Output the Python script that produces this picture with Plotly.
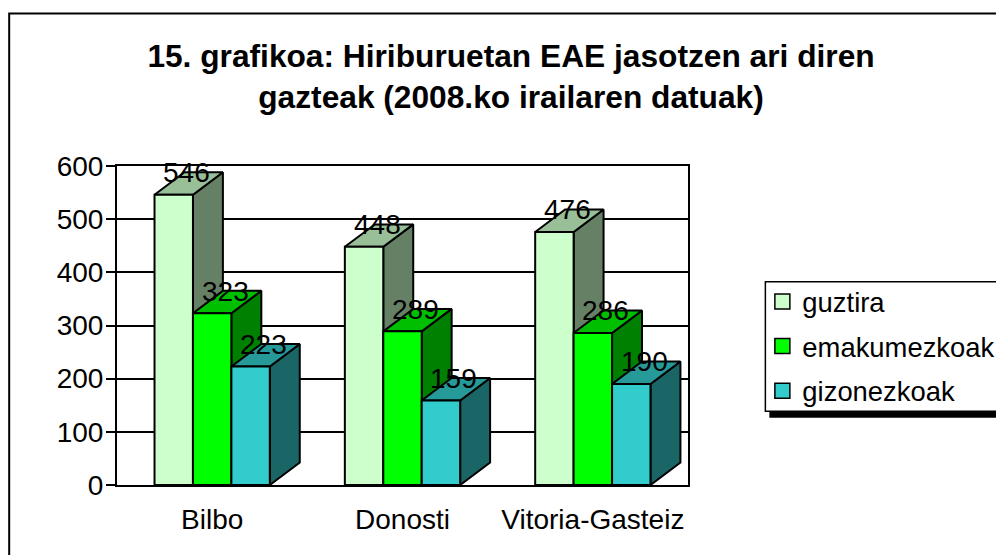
import plotly.graph_objects as go

categories = ["Bilbo", "Donosti", "Vitoria-Gasteiz"]
series_names = ["guztira", "emakumezkoak", "gizonezkoak"]
guztira = [546, 448, 476]
emakumezkoak = [323, 289, 286]
gizonezkoak = [223, 159, 190]
y_ticks = [0, 100, 200, 300, 400, 500, 600]

front_colors = ["#CCFFCC", "#00FF00", "#33CCCC"]
top_colors = ["#99BF99", "#00BF00", "#269999"]
side_colors = ["#668066", "#008000", "#1A6666"]

W, H = 996, 555
L, R, T, B = 116.5, 688.5, 165.5, 485.5
cat_px = (R - L) / 3
unit_px = (B - T) / 600
bar_w = 38.5 / cat_px
dx = 30 / cat_px
dy = 22.5 / unit_px
LINE = dict(color="black", width=2)

fig = go.Figure()


def face(xs, ys, color):
    fig.add_trace(go.Scatter(
        x=xs + xs[:1], y=ys + ys[:1], mode="lines", fill="toself", fillcolor=color,
        line=LINE, hoverinfo="skip", showlegend=False))


all_series = [guztira, emakumezkoak, gizonezkoak]
for c in range(len(categories)):
    for s, values in enumerate(all_series):
        v = values[c]
        x0 = c + (s - 1.5) * bar_w
        x1 = x0 + bar_w
        face([x1, x1 + dx, x1 + dx, x1], [0, dy, v + dy, v], side_colors[s])
        face([x0, x1, x1 + dx, x0 + dx], [v, v, v + dy, v + dy], top_colors[s])
        face([x0, x1, x1, x0], [0, 0, v, v], front_colors[s])

# legend entries
for s, name in enumerate(series_names):
    fig.add_trace(go.Scatter(
        x=[None], y=[None], mode="markers", name=name, legendgroup=name,
        marker=dict(symbol="square", size=15, color=front_colors[s],
                    line=dict(color="black", width=1.5))))

annotations = []
for s, values in enumerate(all_series):
    for c, v in enumerate(values):
        annotations.append(dict(
            x=c + (s - 1) * bar_w, y=v, xref="x", yref="y", text=str(v), showarrow=False,
            xshift=13, yshift=22, font=dict(family="Liberation Sans", size=28, color="black")))


def px_x(p):
    return (p - L) / (R - L)


def px_y(p):
    return (B - p) / (B - T)


shapes = [
    # chart frame (runs off the page on the right and bottom)
    dict(type="rect", xref="paper", yref="paper",
         x0=px_x(8.5), x1=px_x(1100), y0=px_y(700), y1=px_y(12.5),
         line=dict(color="black", width=2), fillcolor="rgba(0,0,0,0)", layer="below"),
    # legend shadow
    dict(type="rect", xref="paper", yref="paper",
         x0=px_x(770), x1=px_x(1100), y0=px_y(418), y1=px_y(400),
         line=dict(width=0), fillcolor="black", layer="below"),
    # legend box
    dict(type="rect", xref="paper", yref="paper",
         x0=px_x(766), x1=px_x(1100), y0=px_y(411.5), y1=px_y(281.5),
         line=dict(color="black", width=1.5), fillcolor="white", layer="below"),
]

fig.update_layout(
    width=W, height=H, autosize=False,
    paper_bgcolor="white", plot_bgcolor="white",
    margin=dict(l=L, r=W - R, t=T, b=H - B, pad=0, autoexpand=False),
    font=dict(family="Liberation Sans", size=28, color="black"),
    title=dict(
        text="<b>15. grafikoa: Hiriburuetan EAE jasotzen ari diren<br>gazteak (2008.ko irailaren datuak)</b>",
        x=511 / W, xanchor="center", xref="container", y=1 - 66.5 / H, yanchor="top", yref="container",
        font=dict(family="Liberation Sans", size=31.7, color="black")),
    xaxis=dict(range=[-0.5, 2.5], tickmode="array", tickvals=list(range(len(categories))),
               ticktext=categories, ticks="", showgrid=False, zeroline=False,
               showline=True, linecolor="black", linewidth=2, mirror=True,
               ticklabelstandoff=8, tickfont=dict(size=28)),
    yaxis=dict(range=[0, 600], tickmode="array", tickvals=y_ticks, ticks="outside", ticklen=9,
               tickwidth=1.5, tickcolor="black", showgrid=True, gridcolor="black", gridwidth=1.5,
               zeroline=False, showline=True, linecolor="black", linewidth=2, mirror=True,
               ticklabelstandoff=-3, tickfont=dict(size=28)),
    legend=dict(x=px_x(763), xanchor="left", y=px_y(277), yanchor="top",
                bgcolor="rgba(0,0,0,0)", borderwidth=0,
                font=dict(size=27.4), tracegroupgap=6, traceorder="grouped"),
    annotations=annotations, shapes=shapes,
)

fig.write_html("out.html", config=dict(displayModeBar=False),
               post_script="document.body.style.margin='0';document.body.style.overflow='hidden';")
